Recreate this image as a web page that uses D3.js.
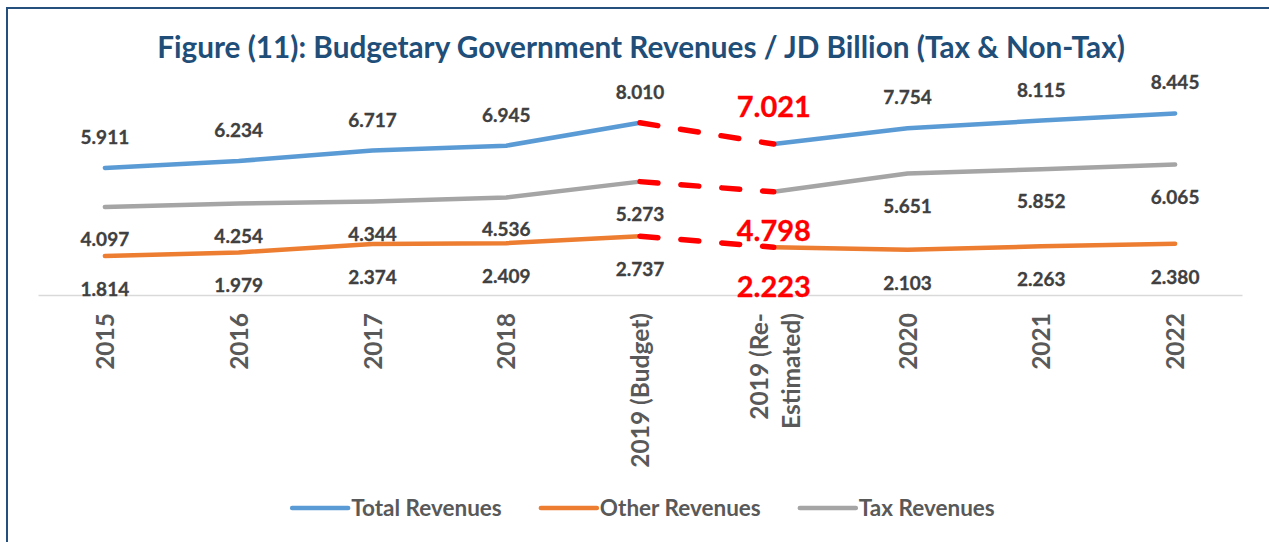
<!DOCTYPE html>
<html>
<head>
<meta charset="utf-8">
<script src="https://cdn.jsdelivr.net/npm/d3@7"></script>
<style>
  body { margin: 0; background: #ffffff; }
  svg { display: block; font-family: Lato, "Noto Sans", sans-serif; }
</style>
</head>
<body>
<svg id="chart" width="1269" height="542"></svg>
<script>
// data (JD billion)
var categories = ["2015", "2016", "2017", "2018", "2019 (Budget)", "2019 (Re-Estimated)", "2020", "2021", "2022"];
var tickLabels = [["2015"], ["2016"], ["2017"], ["2018"], ["2019 (Budget)"], ["2019 (Re-", "Estimated)"], ["2020"], ["2021"], ["2022"]];
var totalRevenues = [5.911, 6.234, 6.717, 6.945, 8.010, 7.021, 7.754, 8.115, 8.445];
var otherRevenues = [1.814, 1.979, 2.374, 2.409, 2.737, 2.223, 2.103, 2.263, 2.380];
var taxRevenues = [4.097, 4.254, 4.344, 4.536, 5.273, 4.798, 5.651, 5.852, 6.065];
var seriesNames = ["Total Revenues", "Other Revenues", "Tax Revenues"];
var seriesColors = ["#5B9BD5", "#ED7D31", "#A5A5A5"];

var titleText = "Figure (11): Budgetary Government Revenues / JD Billion (Tax & Non-Tax)";

var svg = d3.select("#chart");
var W = 1269, H = 542;

svg.append("rect").attr("width", W).attr("height", H).attr("fill", "#ffffff");

// frame of the chart area (only the left and top edges are in view)
svg.append("rect")
  .attr("x", 7).attr("y", 8).attr("width", 1400).attr("height", 700)
  .attr("fill", "none").attr("stroke", "#25507E").attr("stroke-width", 2);

// title, sized to span the same width as the original
var title = svg.append("text")
  .attr("x", 641).attr("y", 58)
  .attr("text-anchor", "middle")
  .attr("font-weight", "bold")
  .attr("font-size", 26)
  .attr("fill", "#1F4E79")
  .text(titleText);
var tw = title.node().getComputedTextLength();
title.attr("font-size", 26 * 968 / tw);

// scales
var x = d3.scalePoint().domain(categories).range([38, 1242]).padding(0.5);
var y = d3.scaleLinear().domain([0, 10]).range([295, 80]);

// axis
var gx = svg.append("g")
  .attr("transform", "translate(0," + y(0) + ")")
  .call(d3.axisBottom(x).tickSize(0).tickSizeOuter(0).tickFormat(""));
gx.select(".domain").attr("stroke", "#D9D9D9").attr("stroke-width", 1.5);
gx.selectAll(".tick text").remove();
gx.selectAll(".tick").each(function(d, i) {
  var lines = tickLabels[i];
  var t = d3.select(this).append("text")
    .attr("transform", "rotate(-90)")
    .attr("text-anchor", "end")
    .attr("fill", "#595959")
    .attr("font-weight", "bold")
    .attr("font-size", 24.5)
    .attr("font-family", "Lato, 'Noto Sans', sans-serif");
  lines.forEach(function(s, k) {
    var off = lines.length === 1 ? 0 : (k === 0 ? -15 : 17);
    t.append("tspan")
      .attr("x", -18)
      .attr("y", off)
      .attr("dy", "0.35em")
      .text(s);
  });
});

// series
var series = [
  { name: seriesNames[0], values: totalRevenues, color: seriesColors[0], dy: -24, dyRe: -27 },
  { name: seriesNames[1], values: otherRevenues, color: seriesColors[1], dy: 40, dyRe: 50 },
  { name: seriesNames[2], values: taxRevenues, color: seriesColors[2], dy: 39, dyRe: 49 }
];

var iBudget = categories.indexOf("2019 (Budget)");
var iRe = categories.indexOf("2019 (Re-Estimated)");

var line = d3.line()
  .x(function(d) { return x(d.c); })
  .y(function(d) { return y(d.v); });

var gLines = svg.append("g");
series.forEach(function(s) {
  var pts = categories.map(function(c, i) { return { c: c, v: s.values[i], i: i }; });
  var before = pts.slice(0, iBudget + 1);
  var after = pts.slice(iRe);
  [before, after].forEach(function(seg) {
    gLines.append("path")
      .attr("d", line(seg))
      .attr("fill", "none")
      .attr("stroke", s.color)
      .attr("stroke-width", 4.5)
      .attr("stroke-linecap", "round")
      .attr("stroke-linejoin", "round");
  });
  // change from budget to re-estimate, drawn dashed red
  gLines.append("path")
    .attr("d", line(pts.slice(iBudget, iRe + 1)))
    .attr("fill", "none")
    .attr("stroke", "#FF0000")
    .attr("stroke-width", 5.5)
    .attr("stroke-linecap", "round")
    .attr("stroke-dasharray", "18,23");
});

// data labels
var gLabels = svg.append("g").attr("text-anchor", "middle").attr("font-weight", "bold");
series.forEach(function(s) {
  s.values.forEach(function(v, i) {
    var re = i === iRe;
    gLabels.append("text")
      .attr("x", x(categories[i]))
      .attr("y", y(v) + (re ? s.dyRe : s.dy))
      .attr("font-size", re ? 29 : 19)
      .attr("fill", re ? "#FF0000" : "#404040")
      .attr("stroke", re ? "#FF0000" : "#404040")
      .attr("stroke-width", 0.3)
      .text(v.toFixed(3));
  });
});

// legend
var gLeg = svg.append("g").attr("transform", "translate(0,508)");
var items = gLeg.selectAll("g").data(series).enter().append("g");
items.append("line")
  .attr("x1", 0).attr("x2", 56).attr("y1", 0).attr("y2", 0)
  .attr("stroke", function(d) { return d.color; })
  .attr("stroke-width", 4.5)
  .attr("stroke-linecap", "round");
items.append("text")
  .attr("x", 59).attr("y", 7.5)
  .attr("font-size", 22.5)
  .attr("font-weight", "bold")
  .attr("fill", "#595959")
  .text(function(d) { return d.name; });
var widths = [];
items.each(function() { widths.push(this.getBBox().width); });
var gap = 39;
var total = d3.sum(widths) + gap * (widths.length - 1);
var cx = 294 + 699 / 2 - total / 2;
items.attr("transform", function(d, i) {
  var p = cx;
  cx += widths[i] + gap;
  return "translate(" + p + ",0)";
});
</script>
</body>
</html>
